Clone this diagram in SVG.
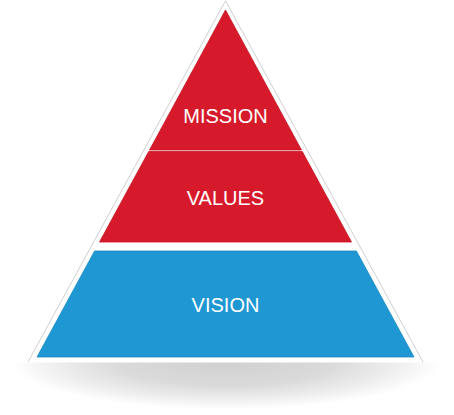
<svg xmlns="http://www.w3.org/2000/svg" width="454" height="415" viewBox="0 0 454 415">
  <defs>
    <radialGradient id="shadowGrad" cx="226" cy="362" r="215" gradientUnits="userSpaceOnUse" gradientTransform="translate(226 362) scale(1 0.22) translate(-226 -362)">
      <stop offset="0" stop-color="#d0d0d0"/>
      <stop offset="0.5" stop-color="#dadada"/>
      <stop offset="0.8" stop-color="#efefef"/>
      <stop offset="1" stop-color="#ffffff"/>
    </radialGradient>
    <clipPath id="belowBase">
      <rect x="0" y="362.5" width="454" height="53"/>
    </clipPath>
  </defs>
  <style>
    .label { font-family: "Liberation Sans", Arial, sans-serif; font-size: 20px; fill: #ffffff; text-anchor: middle; }
    .red { fill: #d71a2b; stroke: #c8141f; stroke-width: 0.8; }
    .blue { fill: #1e97d3; stroke: #1689c4; stroke-width: 0.8; }
  </style>
  <rect width="454" height="415" fill="#ffffff"/>
  <g id="shadow" clip-path="url(#belowBase)">
    <ellipse cx="226" cy="362" rx="215" ry="47" fill="url(#shadowGrad)"/>
  </g>
  <g id="frame">
    <polygon points="225.5,0.8 28,362 423,362" fill="#ffffff"/>
    <polyline points="28,362 225.5,0.8 423,362" fill="none" stroke="#cfcfcf" stroke-width="1"/>
  </g>
  <g id="mission">
    <polygon class="red" points="225.5,10 149.5,150 301.5,150"/>
    <text class="label" x="225.5" y="123">MISSION</text>
  </g>
  <g id="values">
    <polygon class="red" points="148.7,151.5 302.3,151.5 351.5,242 99.5,242"/>
    <text class="label" x="225.5" y="205">VALUES</text>
  </g>
  <g id="vision">
    <polygon class="blue" points="94.6,251 356.4,251 414,357 37,357"/>
    <text class="label" x="225.5" y="312">VISION</text>
  </g>
  <g id="connectors"/>
</svg>
